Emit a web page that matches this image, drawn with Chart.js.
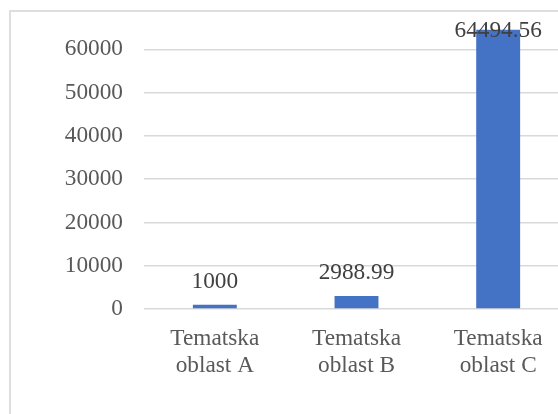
<!DOCTYPE html>
<html>
<head>
<meta charset="utf-8">
<script src="https://cdn.jsdelivr.net/npm/chart.js@4/dist/chart.umd.min.js"></script>
<style>
  html, body { margin: 0; padding: 0; background: #fff; overflow: hidden; }
  #wrap { position: relative; width: 558px; height: 414px; overflow: hidden; }
  #frame { position: absolute; left: 9px; top: 10px; width: 600px; height: 450px;
           border: 2px solid #dedede; box-sizing: border-box; }
  #c { position: absolute; left: 0; top: 0; }
</style>
</head>
<body>
<div id="wrap">
  <div id="frame"></div>
  <canvas id="c" width="600" height="440"></canvas>
</div>
<script>
// podaci
const kategorije = [["Tematska", "oblast A"], ["Tematska", "oblast B"], ["Tematska", "oblast C"]];
const vrijednosti = [1000, 2988.99, 64494.56];
const oznake = ["1000", "2988.99", "64494.56"];
const yTicks = [0, 10000, 20000, 30000, 40000, 50000, 60000];

const FONT = "'Liberation Serif', 'Times New Roman', serif";

// oznake podataka iznad stupaca (kao u Excelu)
const dataLabels = {
  id: "dataLabels",
  afterDatasetsDraw(chart) {
    const ctx = chart.ctx;
    const meta = chart.getDatasetMeta(0);
    ctx.save();
    ctx.font = "23.3px " + FONT;
    ctx.fillStyle = "#404040";
    ctx.textAlign = "center";
    ctx.textBaseline = "middle";
    meta.data.forEach((bar, i) => {
      let y = bar.y - 23;
      if (y < 31) y = 31; // ne izlazi iz okvira
      ctx.fillText(oznake[i], bar.x, y);
    });
    ctx.restore();
  }
};

new Chart(document.getElementById("c"), {
  type: "bar",
  data: {
    labels: kategorije,
    datasets: [{
      data: vrijednosti,
      backgroundColor: "#4472C4",
      barPercentage: 0.31,
      categoryPercentage: 1,
      clip: false
    }]
  },
  options: {
    responsive: false,
    animation: false,
    events: [],
    layout: { padding: { top: 13, right: 31, left: 0, bottom: 0 } },
    plugins: { legend: { display: false }, tooltip: { enabled: false } },
    scales: {
      x: {
        grid: { display: false },
        border: { display: false },
        ticks: {
          color: "#595959",
          font: { family: FONT, size: 23.3, lineHeight: 1.16 },
          padding: 8,
          maxRotation: 0,
          autoSkip: false
        },
        afterFit(scale) { scale.height = 131; }
      },
      y: {
        min: 0,
        max: 63300,
        grid: { color: "#d9d9d9", lineWidth: 1.5, drawTicks: false },
        border: { display: false },
        ticks: {
          color: "#595959",
          font: { family: FONT, size: 23.3 },
          padding: 21,
          stepSize: 10000,
          callback: (v) => String(v)
        },
        afterBuildTicks(scale) {
          scale.ticks = yTicks.map(v => ({ value: v }));
        },
        afterFit(scale) { scale.width = 144; }
      }
    }
  },
  plugins: [dataLabels]
});
</script>
</body>
</html>
